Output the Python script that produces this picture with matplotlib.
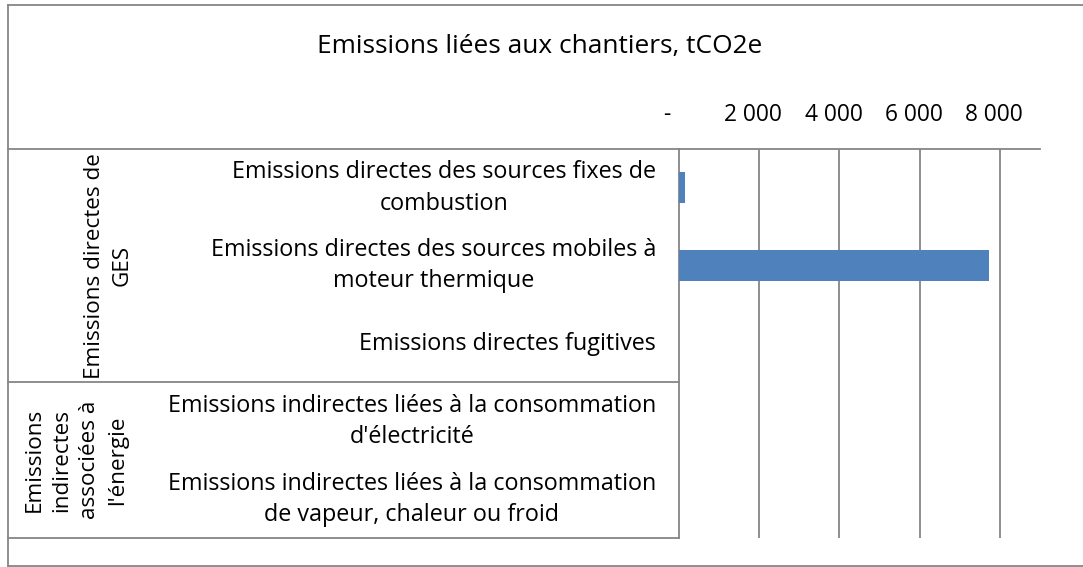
import matplotlib.pyplot as plt
from matplotlib.lines import Line2D

title = "Emissions liées aux chantiers, tCO2e"
categories = [
    "Emissions directes des sources fixes de\ncombustion",
    "Emissions directes des sources mobiles à\nmoteur thermique",
    "Emissions directes fugitives",
    "Emissions indirectes liées à la consommation\nd'électricité",
    "Emissions indirectes liées à la consommation\nde vapeur, chaleur ou froid",
]
values = [140, 7720, 0, 0, 0]
groups = ["Emissions directes de\nGES", "Emissions\nindirectes\nassociées à\nl'énergie"]
group_sizes = [3, 2]
ticks = [0, 2000, 4000, 6000, 8000]
tick_labels = ["-    ", "2 000  ", "4 000  ", "6 000  ", "8 000  "]

W, H = 1083, 567
plt.rcParams['font.family'] = ['Open Sans', 'DejaVu Sans']
grey = '#868686'
fs = 16.8

fig = plt.figure(figsize=(W / 100, H / 100), dpi=100)


def fx(px):
    return px / W


def fy(py):
    return 1 - py / H


ax_l, ax_r, ax_t, ax_b = 679, 1040, 149, 538
ax = fig.add_axes([fx(ax_l), fy(ax_b), fx(ax_r - ax_l), fy(ax_t) - fy(ax_b)])

pos = list(range(len(categories)))
ax.barh(pos, values, height=0.4, color='#4F81BD', zorder=3)
ax.set_ylim(len(categories) - 0.5, -0.5)
ax.set_xlim(0, 9000)
ax.xaxis.tick_top()
ax.set_xticks(ticks)
ax.set_xticklabels(tick_labels, fontsize=16.4)
ax.tick_params(axis='x', length=0, pad=16)
ax.set_yticks([])
for x in ticks[1:]:
    ax.axvline(x, color=grey, lw=1.3, zorder=1)
for s in ['right', 'bottom']:
    ax.spines[s].set_visible(False)
for s in ['left', 'top']:
    ax.spines[s].set_color(grey)
    ax.spines[s].set_linewidth(1.3)

# category labels
slot = (ax_b - ax_t) / len(categories)
for i, c in enumerate(categories):
    yc = ax_t + slot * (i + 0.5)
    fig.text(fx(656), fy(yc), c, ha='right', va='center', multialignment='center',
             fontsize=fs, linespacing=1.4)

# group labels and separators
group_x = [108, 76]
start = 0
for g, n, gx in zip(groups, group_sizes, group_x):
    y0 = ax_t + slot * start
    y1 = ax_t + slot * (start + n)
    fig.text(fx(gx), fy((y0 + y1) / 2), g, rotation=90, ha='center', va='center',
             multialignment='center', fontsize=16.2, linespacing=1.42)
    fig.add_artist(Line2D([fx(8), fx(ax_l)], [fy(y1), fy(y1)], color=grey, lw=1.3))
    start += n
fig.add_artist(Line2D([fx(8), fx(ax_l)], [fy(ax_t), fy(ax_t)], color=grey, lw=1.3))

# outer border
fig.add_artist(Line2D([fx(8), 1], [fy(5), fy(5)], color=grey, lw=1.3))
fig.add_artist(Line2D([fx(8), fx(8)], [fy(5), fy(566)], color=grey, lw=1.3))
fig.add_artist(Line2D([fx(8), 1], [fy(566), fy(566)], color=grey, lw=1.3))

fig.text(fx(540), fy(47), title, ha='center', va='center', fontsize=18.9)

fig.savefig('out.png', dpi=100)
